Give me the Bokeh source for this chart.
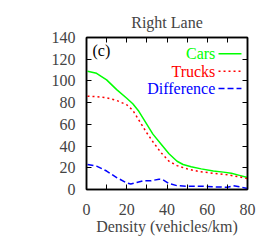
from bokeh.plotting import figure
from bokeh.models import Range1d, LinearAxis, FixedTicker, Label
from bokeh.embed import file_html
from bokeh.resources import INLINE

density_c = [0.5, 5, 10, 15, 20, 23, 26, 30, 33, 37, 41, 45, 48, 52, 57, 63, 68, 72, 76, 80]
cars = [109, 107, 101, 92, 84, 79, 72, 60, 51, 42, 33, 26, 23, 21, 19, 17, 16, 15, 13, 11]
density_t = [0.5, 5, 10, 15, 20, 23, 26, 30, 33, 37, 41, 45, 50, 56, 63, 70, 75, 80]
trucks = [86, 85.5, 84.5, 82, 78, 73, 64, 52, 44, 34, 26, 22, 19, 16.5, 15, 13.5, 12, 10]
density_d = [0.5, 5, 10, 15, 20, 22, 25, 28, 32, 36, 38, 41, 45, 50, 57, 63, 70, 73, 76, 80]
diff = [23, 21.5, 17, 11, 6, 5, 6.5, 8, 8, 9.5, 9, 5.5, 3.5, 3, 3, 2.5, 2, 3.5, 2.5, 1]

x_ticks = [0, 20, 40, 60, 80]
x_minor = [10, 30, 50, 70]
y_ticks = [0, 20, 40, 60, 80, 100, 120, 140]

FONT = "Liberation Serif"
FS = "16px"

p = figure(frame_width=161, frame_height=152, output_backend="svg", toolbar_location=None,
           x_range=Range1d(0, 80), y_range=Range1d(0, 140),
           min_border_left=86, min_border_right=18, min_border_top=37, min_border_bottom=48,
           x_axis_label="Density (vehicles/km)")
p.title.text = "Right Lane"
p.title.align = "center"
p.title.text_font = FONT
p.title.text_font_size = FS
p.title.text_font_style = "normal"
p.title.standoff = 14
p.grid.visible = False
p.outline_line_color = "black"
p.outline_line_width = 1.5
p.background_fill_color = "white"
p.border_fill_color = "white"

xt = FixedTicker(ticks=x_ticks, minor_ticks=x_minor)
yt = FixedTicker(ticks=y_ticks, minor_ticks=[])

def style(ax):
    ax.major_tick_in = 5
    ax.major_tick_out = 0
    ax.minor_tick_in = 5
    ax.minor_tick_out = 0
    ax.axis_line_color = "black"
    ax.axis_line_width = 1.5
    ax.major_tick_line_width = 1
    ax.minor_tick_line_width = 1
    ax.major_label_text_font = FONT
    ax.major_label_text_font_size = FS
    ax.axis_label_text_font = FONT
    ax.axis_label_text_font_size = FS
    ax.axis_label_text_font_style = "normal"
    ax.axis_label_standoff = 0
    ax.major_label_standoff = 10

p.xaxis.ticker = xt
p.yaxis.ticker = yt
style(p.xaxis[0])
style(p.yaxis[0])
p.xaxis[0].major_label_standoff = 14
p.yaxis[0].major_label_standoff = 11

top = LinearAxis(ticker=xt)
style(top)
top.major_label_overrides = {t: "" for t in x_ticks}
top.major_label_standoff = 0
p.add_layout(top, "above")
right = LinearAxis(ticker=yt)
style(right)
right.major_label_overrides = {t: "" for t in y_ticks}
right.major_label_standoff = 0
p.add_layout(right, "right")

p.line(density_c, cars, line_color="#00ff00", line_width=1.5)
p.line(density_t, trucks, line_color="#ff0000", line_width=1.5, line_dash="2 3")
p.line(density_d, diff, line_color="#0000ff", line_width=1.5, line_dash="6 3")

names = ["Cars", "Trucks", "Difference"]
colors = ["#00ff00", "#ff0000", "#0000ff"]
dashes = ["solid", "2 3", "6 3"]
ys = [125, 109, 93]
for n, c, d, yv in zip(names, colors, dashes, ys):
    p.add_layout(Label(x=64, y=yv, text=n, text_align="right", text_baseline="middle",
                       text_font=FONT, text_font_size=FS, text_color=c))
    p.segment(x0=[65.6], y0=[yv], x1=[77], y1=[yv], line_color=c, line_width=1.5, line_dash=d)

p.add_layout(Label(x=3, y=128, text="(c)", text_align="left", text_baseline="middle",
                   text_font=FONT, text_font_size=FS, text_color="black"))

open("out.html", "w").write(file_html(p, INLINE))
